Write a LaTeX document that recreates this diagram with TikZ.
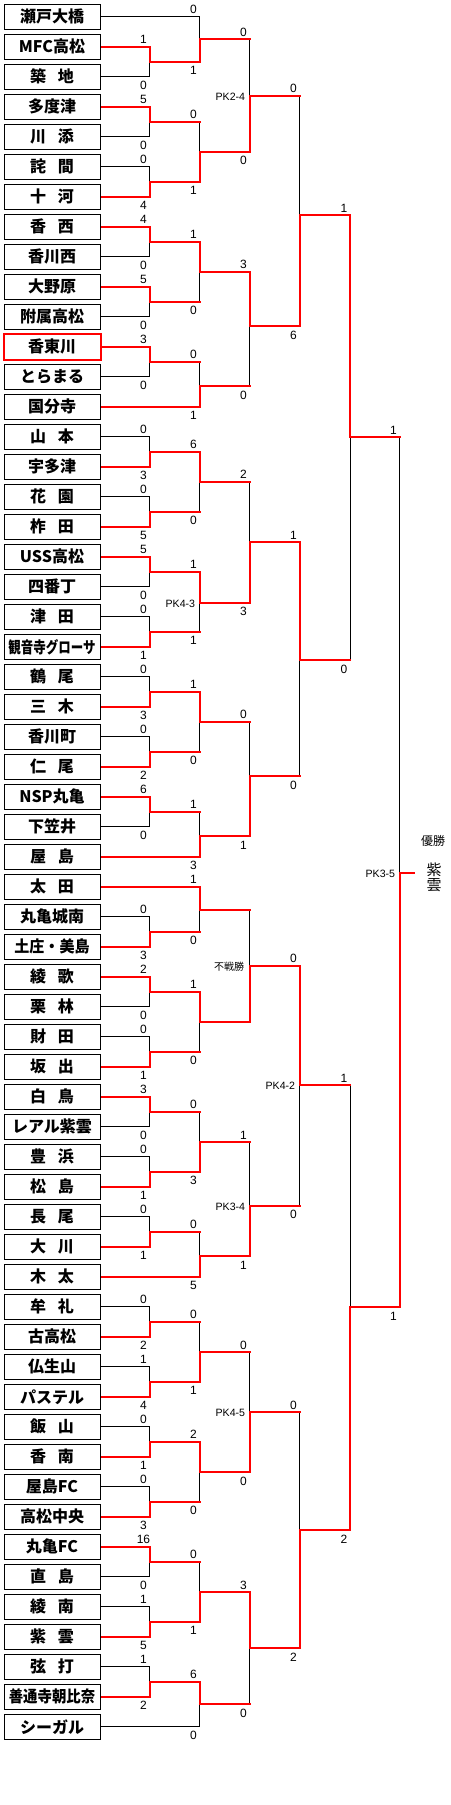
\documentclass[tikz,border=0pt]{standalone}
\usepackage{fontspec}
\usepackage{graphicx}
\setmainfont{Noto Sans CJK JP}
\newfontfamily\latf{Liberation Sans}
\pgfdeclarelayer{bg}
\pgfdeclarelayer{blk}
\pgfdeclarelayer{top}
\pgfsetlayers{bg,blk,main,top}
\newcommand\jg{\hspace{0.75em}}
\tikzset{
  team/.style={draw, line width=0.5pt, fill=white, minimum width=48pt, minimum height=12.5pt, inner sep=0pt, font=\bfseries\fontsize{8}{8}\selectfont},
  wl/.style={draw=red, line width=1pt, line cap=rect},
  ll/.style={draw=black, line width=0.5pt},
  sc/.style={font=\latf\fontsize{6}{6}\selectfont, inner sep=0pt, anchor=base},
  pk/.style={font=\latf\fontsize{5.3}{5.3}\selectfont, inner sep=0pt, anchor=east},
}
% winner input -> junction
\newcommand\mwin[2]{\draw[wl] (#1) -| (#2);}
% losing team box input (all black)
\newcommand\mlt[2]{\begin{pgfonlayer}{blk}\draw[ll] (#1) -| (#2);\end{pgfonlayer}}
% losing junction input (red horizontal, black vertical)
\newcommand\mlj[2]{\draw[wl] (#1) -- (#1 -| #2);\begin{pgfonlayer}{blk}\draw[ll] (#1 -| #2) -- (#2);\end{pgfonlayer}}
% scores above / below
\newcommand\sca[3]{\path (#1 -| #2) ++(-6,-3) node[sc] {#3};}
\newcommand\scb[3]{\path (#1 -| #2) ++(-6,13) node[sc] {#3};}
\newcommand\pkl[2]{\path (#1) ++(-4,1) node[pk] {#2};}
\begin{document}
\begin{tikzpicture}[x=0.5pt,y=-0.5pt]
\begin{pgfonlayer}{bg}
\fill[white] (0,0) rectangle (450,1805);
\end{pgfonlayer}
\useasboundingbox (0,0) rectangle (450,1805);
\begin{pgfonlayer}{top}
\foreach \s [count=\i] in {瀬戸大橋,MFC高松,築\jg 地,多度津,川\jg 添,詫\jg 間,十\jg 河,香\jg 西,香川西,大野原,附属高松,香東川,とらまる,国分寺,山\jg 本,宇多津,花\jg 園,柞\jg 田,USS高松,四番丁,津\jg 田,{\scalebox{0.78}[1]{観音寺グローサ}},鶴\jg 尾,三\jg 木,香川町,仁\jg 尾,NSP丸亀,下笠井,屋\jg 島,太\jg 田,丸亀城南,{\scalebox{0.94}[1]{土庄・美島}},綾\jg 歌,栗\jg 林,財\jg 田,坂\jg 出,白\jg 鳥,レアル紫雲,豊\jg 浜,松\jg 島,長\jg 尾,大\jg 川,木\jg 太,牟\jg 礼,古高松,仏生山,パステル,飯\jg 山,香\jg 南,屋島FC,高松中央,丸亀FC,直\jg 島,綾\jg 南,紫\jg 雲,弦\jg 打,{\scalebox{0.9}[1]{善通寺朝比奈}},シーガル}{
  \node[team] (t\i) at (52,{16.8+30*(\i-1)}) {\s};
}
\draw[red,line width=1pt] (t12.south west) rectangle (t12.north east);
\end{pgfonlayer}
% ---- junction coordinates
\foreach \k/\yy in {1/61.8,2/121.8,3/181.8,4/241.8,5/301.8,6/361.8,7/451.8,8/511.8,9/571.8,10/631.8,11/691.8,12/751.8,13/811.8,14/931.8,15/991.8,16/1051.8,17/1111.8,18/1171.8,19/1231.8,20/1321.8,21/1381.8,22/1441.8,23/1501.8,24/1561.8,25/1621.8,26/1681.8}
  {\coordinate (m\k) at (149.5,\yy);}
\foreach \k/\yy in {1/39.3,2/151.8,3/271.8,4/386,5/481.8,6/602.5,7/721.8,8/836,9/910,10/1022,11/1142,12/1256,13/1352,14/1472,15/1592,16/1704}
  {\coordinate (n\k) at (199.5,\yy);}
\foreach \k/\yy in {1/95.5,2/326,3/542.3,4/776,5/965.5,6/1205.7,7/1412,8/1648}
  {\coordinate (p\k) at (249.5,\yy);}
\coordinate (q1) at (299.5,215);
\coordinate (q2) at (299.5,660);
\coordinate (q3) at (299.5,1085);
\coordinate (q4) at (299.5,1530);
\coordinate (r1) at (350,437);
\coordinate (r2) at (350,1307.3);
\coordinate (f) at (399.5,872.5);
\coordinate (fe) at (414.3,872.5);
% ---- round 1
\mwin{t2.east}{m1}\mlt{t3.east}{m1}\sca{t2.east}{m1}{1}\scb{t3.east}{m1}{0}
\mwin{t4.east}{m2}\mlt{t5.east}{m2}\sca{t4.east}{m2}{5}\scb{t5.east}{m2}{0}
\mwin{t7.east}{m3}\mlt{t6.east}{m3}\sca{t6.east}{m3}{0}\scb{t7.east}{m3}{4}
\mwin{t8.east}{m4}\mlt{t9.east}{m4}\sca{t8.east}{m4}{4}\scb{t9.east}{m4}{0}
\mwin{t10.east}{m5}\mlt{t11.east}{m5}\sca{t10.east}{m5}{5}\scb{t11.east}{m5}{0}
\mwin{t12.east}{m6}\mlt{t13.east}{m6}\sca{t12.east}{m6}{3}\scb{t13.east}{m6}{0}
\mwin{t16.east}{m7}\mlt{t15.east}{m7}\sca{t15.east}{m7}{0}\scb{t16.east}{m7}{3}
\mwin{t18.east}{m8}\mlt{t17.east}{m8}\sca{t17.east}{m8}{0}\scb{t18.east}{m8}{5}
\mwin{t19.east}{m9}\mlt{t20.east}{m9}\sca{t19.east}{m9}{5}\scb{t20.east}{m9}{0}
\mwin{t22.east}{m10}\mlt{t21.east}{m10}\sca{t21.east}{m10}{0}\scb{t22.east}{m10}{1}
\mwin{t24.east}{m11}\mlt{t23.east}{m11}\sca{t23.east}{m11}{0}\scb{t24.east}{m11}{3}
\mwin{t26.east}{m12}\mlt{t25.east}{m12}\sca{t25.east}{m12}{0}\scb{t26.east}{m12}{2}
\mwin{t27.east}{m13}\mlt{t28.east}{m13}\sca{t27.east}{m13}{6}\scb{t28.east}{m13}{0}
\mwin{t32.east}{m14}\mlt{t31.east}{m14}\sca{t31.east}{m14}{0}\scb{t32.east}{m14}{3}
\mwin{t33.east}{m15}\mlt{t34.east}{m15}\sca{t33.east}{m15}{2}\scb{t34.east}{m15}{0}
\mwin{t36.east}{m16}\mlt{t35.east}{m16}\sca{t35.east}{m16}{0}\scb{t36.east}{m16}{1}
\mwin{t37.east}{m17}\mlt{t38.east}{m17}\sca{t37.east}{m17}{3}\scb{t38.east}{m17}{0}
\mwin{t40.east}{m18}\mlt{t39.east}{m18}\sca{t39.east}{m18}{0}\scb{t40.east}{m18}{1}
\mwin{t42.east}{m19}\mlt{t41.east}{m19}\sca{t41.east}{m19}{0}\scb{t42.east}{m19}{1}
\mwin{t45.east}{m20}\mlt{t44.east}{m20}\sca{t44.east}{m20}{0}\scb{t45.east}{m20}{2}
\mwin{t47.east}{m21}\mlt{t46.east}{m21}\sca{t46.east}{m21}{1}\scb{t47.east}{m21}{4}
\mwin{t49.east}{m22}\mlt{t48.east}{m22}\sca{t48.east}{m22}{0}\scb{t49.east}{m22}{1}
\mwin{t51.east}{m23}\mlt{t50.east}{m23}\sca{t50.east}{m23}{0}\scb{t51.east}{m23}{3}
\mwin{t52.east}{m24}\mlt{t53.east}{m24}\sca{t52.east}{m24}{16}\scb{t53.east}{m24}{0}
\mwin{t55.east}{m25}\mlt{t54.east}{m25}\sca{t54.east}{m25}{1}\scb{t55.east}{m25}{5}
\mwin{t57.east}{m26}\mlt{t56.east}{m26}\sca{t56.east}{m26}{1}\scb{t57.east}{m26}{2}
% ---- round 2
\mlt{t1.east}{n1}\mwin{m1}{n1}\sca{t1.east}{n1}{0}\scb{m1}{n1}{1}
\mlj{m2}{n2}\mwin{m3}{n2}\sca{m2}{n2}{0}\scb{m3}{n2}{1}
\mwin{m4}{n3}\mlj{m5}{n3}\sca{m4}{n3}{1}\scb{m5}{n3}{0}
\mlj{m6}{n4}\mwin{t14.east}{n4}\sca{m6}{n4}{0}\scb{t14.east}{n4}{1}
\mwin{m7}{n5}\mlj{m8}{n5}\sca{m7}{n5}{6}\scb{m8}{n5}{0}
\mwin{m9}{n6}\mlj{m10}{n6}\sca{m9}{n6}{1}\scb{m10}{n6}{1}\pkl{n6}{PK4-3}
\mwin{m11}{n7}\mlj{m12}{n7}\sca{m11}{n7}{1}\scb{m12}{n7}{0}
\mlj{m13}{n8}\mwin{t29.east}{n8}\sca{m13}{n8}{1}\scb{t29.east}{n8}{3}
\mwin{t30.east}{n9}\mlj{m14}{n9}\sca{t30.east}{n9}{1}\scb{m14}{n9}{0}
\mwin{m15}{n10}\mlj{m16}{n10}\sca{m15}{n10}{1}\scb{m16}{n10}{0}
\mlj{m17}{n11}\mwin{m18}{n11}\sca{m17}{n11}{0}\scb{m18}{n11}{3}
\mlj{m19}{n12}\mwin{t43.east}{n12}\sca{m19}{n12}{0}\scb{t43.east}{n12}{5}
\mlj{m20}{n13}\mwin{m21}{n13}\sca{m20}{n13}{0}\scb{m21}{n13}{1}
\mwin{m22}{n14}\mlj{m23}{n14}\sca{m22}{n14}{2}\scb{m23}{n14}{0}
\mlj{m24}{n15}\mwin{m25}{n15}\sca{m24}{n15}{0}\scb{m25}{n15}{1}
\mwin{m26}{n16}\mlt{t58.east}{n16}\sca{m26}{n16}{6}\scb{t58.east}{n16}{0}
% ---- round 3
\mlj{n1}{p1}\mwin{n2}{p1}\sca{n1}{p1}{0}\scb{n2}{p1}{0}\pkl{p1}{PK2-4}
\mwin{n3}{p2}\mlj{n4}{p2}\sca{n3}{p2}{3}\scb{n4}{p2}{0}
\mlj{n5}{p3}\mwin{n6}{p3}\sca{n5}{p3}{2}\scb{n6}{p3}{3}
\mlj{n7}{p4}\mwin{n8}{p4}\sca{n7}{p4}{0}\scb{n8}{p4}{1}
\mlj{n9}{p5}\mwin{n10}{p5}
\path (p5) ++(-5,1) node[anchor=east,inner sep=0pt,font=\fontsize{5}{5}\selectfont] (fsen) {不戦勝};
\mlj{n11}{p6}\mwin{n12}{p6}\sca{n11}{p6}{1}\scb{n12}{p6}{1}\pkl{p6}{PK3-4}
\mlj{n13}{p7}\mwin{n14}{p7}\sca{n13}{p7}{0}\scb{n14}{p7}{0}\pkl{p7}{PK4-5}
\mwin{n15}{p8}\mlj{n16}{p8}\sca{n15}{p8}{3}\scb{n16}{p8}{0}
% ---- round 4
\mlj{p1}{q1}\mwin{p2}{q1}\sca{p1}{q1}{0}\scb{p2}{q1}{6}
\mwin{p3}{q2}\mlj{p4}{q2}\sca{p3}{q2}{1}\scb{p4}{q2}{0}
\mwin{p5}{q3}\mlj{p6}{q3}\sca{p5}{q3}{0}\scb{p6}{q3}{0}\pkl{q3}{PK4-2}
\mlj{p7}{q4}\mwin{p8}{q4}\sca{p7}{q4}{0}\scb{p8}{q4}{2}
% ---- round 5
\mwin{q1}{r1}\mlj{q2}{r1}\sca{q1}{r1}{1}\scb{q2}{r1}{0}
\mlj{q3}{r2}\mwin{q4}{r2}\sca{q3}{r2}{1}\scb{q4}{r2}{2}
% ---- final
\mlj{r1}{f}\mwin{r2}{f}\sca{r1}{f}{1}\scb{r2}{f}{1}\pkl{f}{PK3-5}
\draw[wl] (f) -- (fe);
\node[inner sep=0pt,font=\fontsize{6}{6}\selectfont] (yusho) at (433,841) {優勝};
\node[inner sep=0pt,align=center,font=\fontsize{7.5}{7.5}\selectfont] (champ) at (434,877) {紫\\雲};
\end{tikzpicture}
\end{document}
